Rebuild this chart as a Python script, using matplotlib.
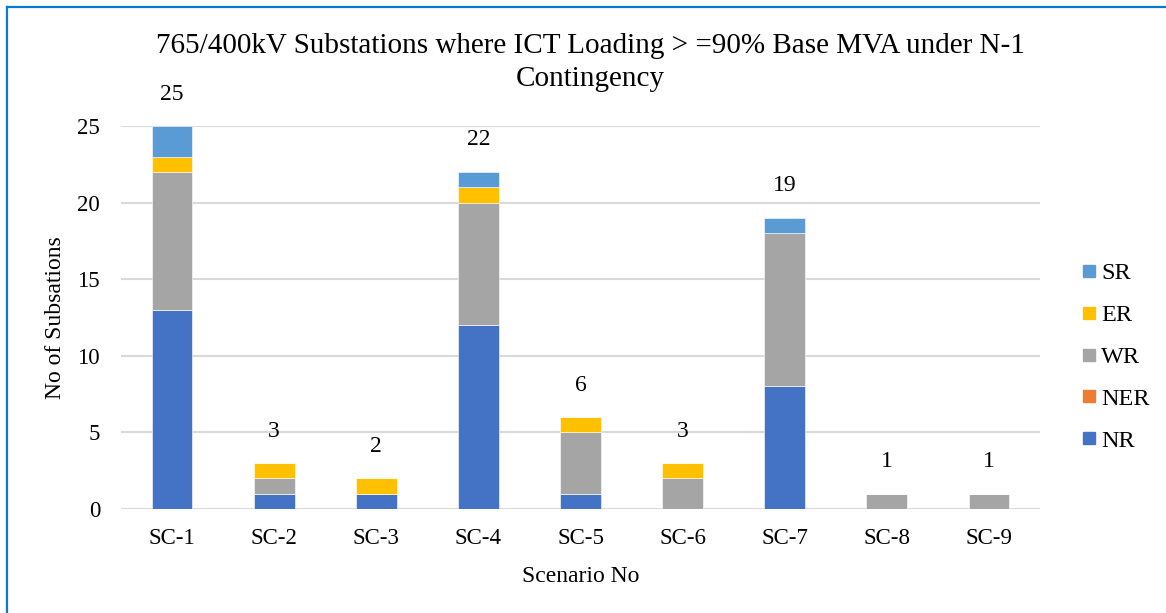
import matplotlib
matplotlib.use("Agg")
import matplotlib.pyplot as plt
from matplotlib.lines import Line2D
import numpy as np

plt.rcParams['font.family'] = ['Liberation Serif', 'DejaVu Serif']

categories = ["SC-1", "SC-2", "SC-3", "SC-4", "SC-5", "SC-6", "SC-7", "SC-8", "SC-9"]
NR  = [13, 1, 1, 12, 1, 0, 8, 0, 0]
NER = [0, 0, 0, 0, 0, 0, 0, 0, 0]
WR  = [9, 1, 0, 8, 4, 2, 10, 1, 1]
ER  = [1, 1, 1, 1, 1, 1, 0, 0, 0]
SR  = [2, 0, 0, 1, 0, 0, 1, 0, 0]

series = [("NR", NR, "#4472C4"), ("NER", NER, "#ED7D31"), ("WR", WR, "#A5A5A5"),
          ("ER", ER, "#FFC000"), ("SR", SR, "#5B9BD5")]

title_lines = ["765/400kV Substations where ICT Loading > =90% Base MVA under N-1",
               "Contingency"]

W, H = 1166, 613
fig = plt.figure(figsize=(W / 100, H / 100), dpi=100)
ax = fig.add_axes([121 / W, 1 - 509 / H, (1040 - 121) / W, (509 - 126) / H])

x = np.arange(len(categories))
bottom = np.zeros(len(categories))
for name, vals, col in series:
    v = np.array(vals, dtype=float)
    ax.bar(x, v, 0.4, bottom=bottom, color=col, edgecolor="white", linewidth=0.4, zorder=3, label=name)
    bottom += v

for xi, tot in zip(x, bottom):
    ax.annotate(f"{int(tot)}", (xi, tot), xytext=(0, 32), textcoords="offset pixels",
                ha="center", va="center", fontsize=17, color="#000000", annotation_clip=False)

ax.set_xlim(-0.5, len(categories) - 0.5)
ax.set_ylim(0, 25)
ax.set_yticks([0, 5, 10, 15, 20, 25])
ax.set_xticks(x)
ax.set_xticklabels(categories)
ax.tick_params(axis="both", length=0, labelsize=16.5, colors="#000000")
ax.tick_params(axis="y", pad=15)
ax.tick_params(axis="x", pad=14)
ax.grid(axis="y", color="#D9D9D9", linewidth=1.5, zorder=0)
ax.set_axisbelow(True)
for s in ax.spines.values():
    s.set_visible(False)

ax.set_xlabel("Scenario No", fontsize=17, labelpad=12)
ax.set_ylabel("No of Subsations", fontsize=17, labelpad=8)

fig.text(0.506, 1 - 46 / H, title_lines[0], ha="center", va="center", fontsize=21)
fig.text(0.506, 1 - 79 / H, title_lines[1], ha="center", va="center", fontsize=21)

handles = [Line2D([0], [0], marker="s", linestyle="none", markersize=8.5,
                  markerfacecolor=c, markeredgecolor=c) for _, _, c in series][::-1]
labels = [n for n, _, _ in series][::-1]
leg = fig.legend(handles, labels, loc="center left", bbox_to_anchor=(1072 / W, 1 - 357 / H),
                 frameon=False, fontsize=17.5, handlelength=0.6, handletextpad=0.2,
                 labelspacing=0.82, borderaxespad=0)

# blue frame (left and top)
fig.add_artist(Line2D([7 / W, 7 / W], [0, 1 - 7 / H], color="#0A7BD0", linewidth=1.6,
                      transform=fig.transFigure))
fig.add_artist(Line2D([7 / W, 1], [1 - 7 / H, 1 - 7 / H], color="#0A7BD0", linewidth=1.6,
                      transform=fig.transFigure))

fig.savefig("out.png", dpi=100)
